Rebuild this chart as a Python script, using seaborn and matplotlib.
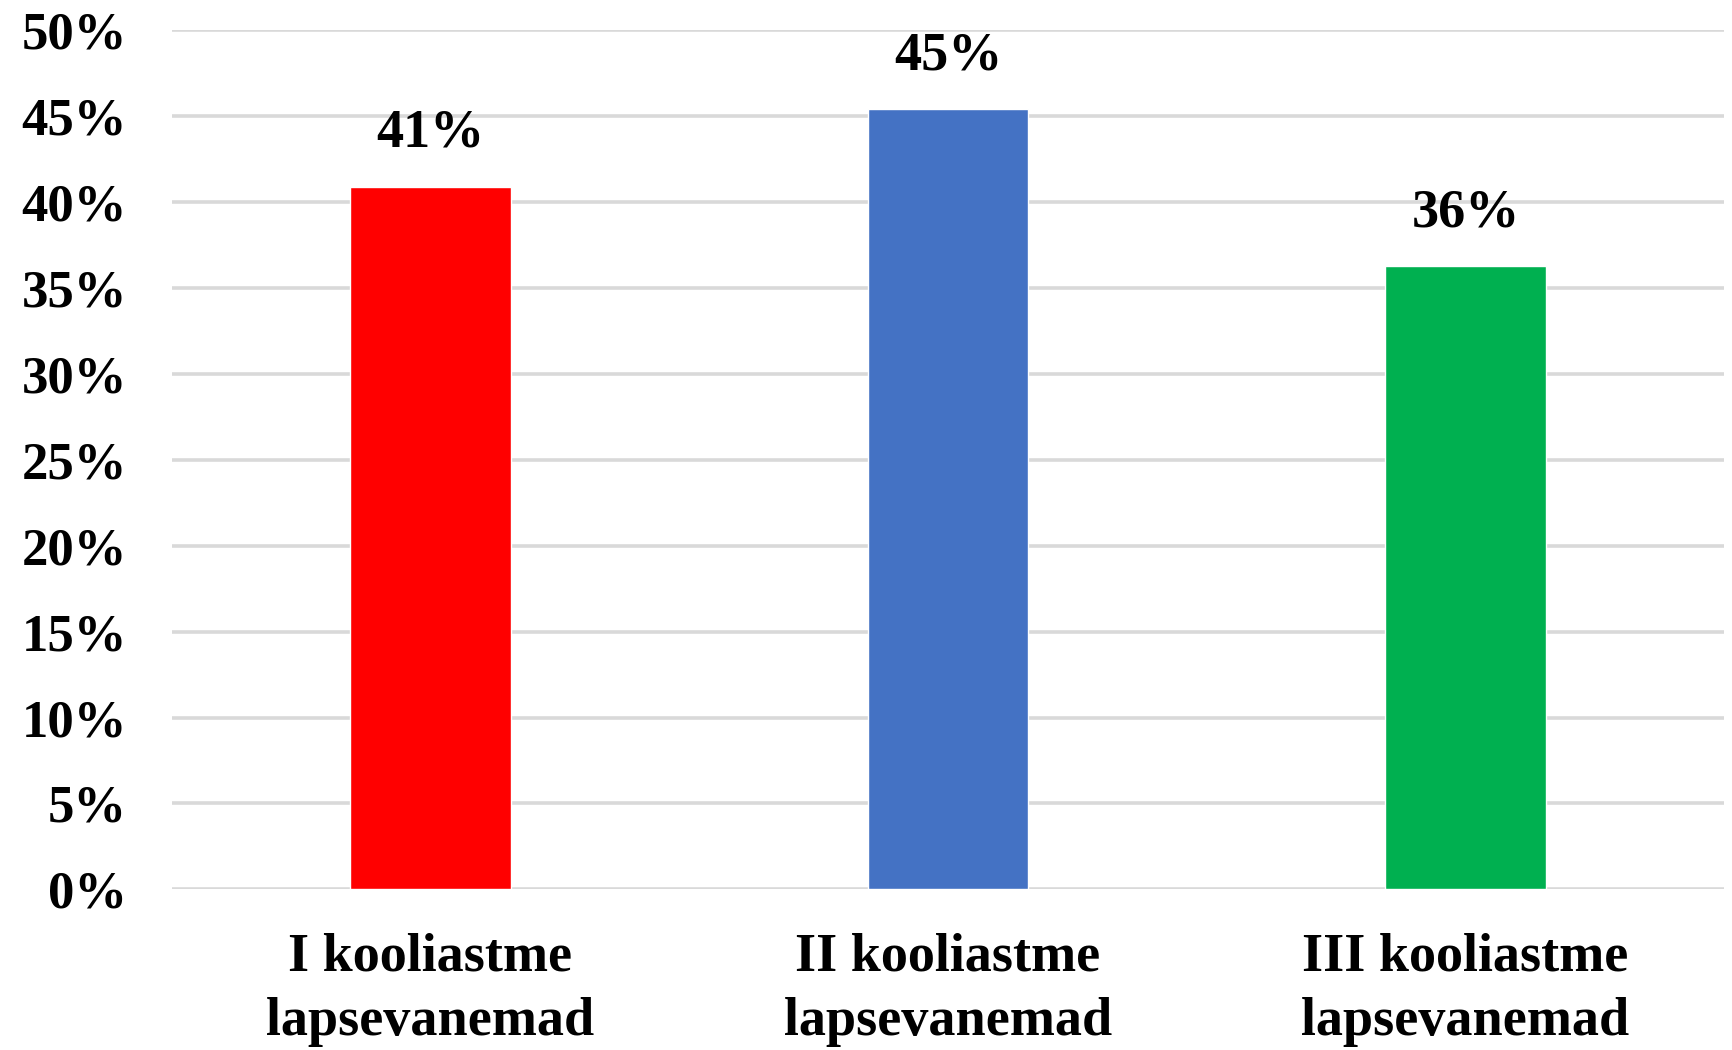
import seaborn as sns
import matplotlib.pyplot as plt
import matplotlib.ticker as mtick
import pandas as pd

# andmed
kategooriad = ['I kooliastme\nlapsevanemad', 'II kooliastme\nlapsevanemad', 'III kooliastme\nlapsevanemad']
osakaal = [0.409, 0.454, 0.363]
varvid = ['#FF0000', '#4472C4', '#00B050']
y_ticks = [0, 0.05, 0.10, 0.15, 0.20, 0.25, 0.30, 0.35, 0.40, 0.45, 0.50]

df = pd.DataFrame({'grupp': kategooriad, 'osakaal': osakaal})

sns.set_style('white')
plt.rcParams['font.family'] = ['Liberation Serif', 'DejaVu Serif']
plt.rcParams['font.weight'] = 'bold'
plt.rcParams['text.color'] = 'black'
plt.rcParams['xtick.color'] = 'black'
plt.rcParams['ytick.color'] = 'black'

fig, ax = plt.subplots(figsize=(17.33, 10.5), dpi=100)
fig.subplots_adjust(left=0.099, right=0.995, top=0.971, bottom=0.153)

sns.barplot(data=df, x='grupp', y='osakaal', hue='grupp', palette=varvid,
            legend=False, width=0.31, saturation=1, ax=ax, zorder=3)

# väärtused tulpade kohal
for cont in ax.containers:
    ax.bar_label(cont, labels=[f'{v:.0%}' for v in cont.datavalues],
                 padding=20, fontsize=39, fontweight='bold', color='black')

ax.set_ylim(0, 0.5)
ax.set_xlim(-0.5, 2.5)
ax.set_yticks(y_ticks)
ax.yaxis.set_major_formatter(mtick.PercentFormatter(1.0, decimals=0))
ax.grid(axis='y', color='#d9d9d9', linewidth=2.6, zorder=0)
ax.set_axisbelow(True)
for s in ax.spines.values():
    s.set_visible(False)

ax.tick_params(axis='y', length=0, pad=32, labelsize=38)
ax.tick_params(axis='x', length=0, pad=31, labelsize=39)
for t in ax.get_xticklabels():
    t.set_linespacing(1.38)
ax.set_xlabel('')
ax.set_ylabel('')

plt.savefig('out.png', dpi=100)
